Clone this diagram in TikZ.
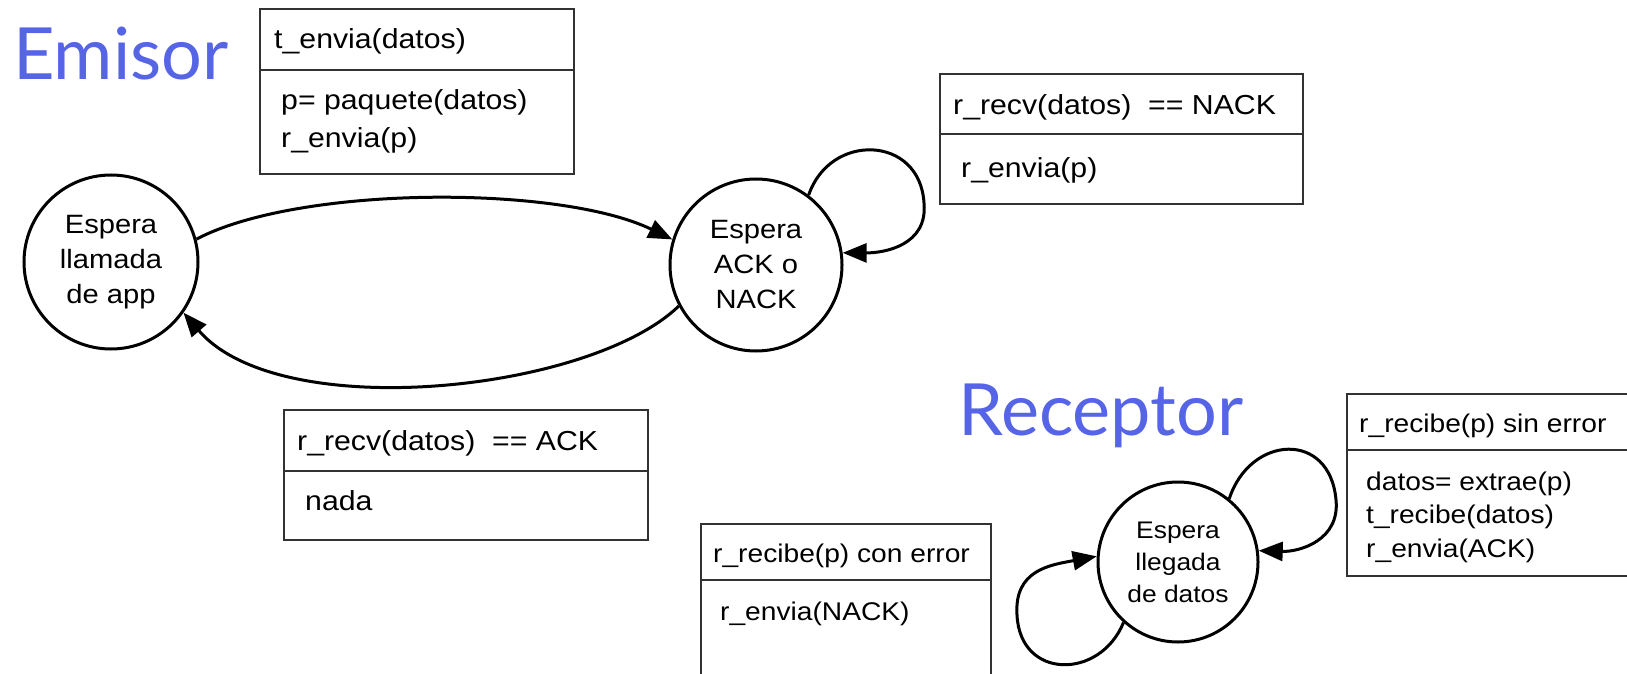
\documentclass[tikz,border=0pt]{standalone}
\usepackage{fontspec}
\setmainfont{Liberation Sans}
\newfontfamily\hv{Liberation Sans}[FakeStretch=1.1]
\newfontfamily\gill{Lato}
\usetikzlibrary{arrows.meta}
\definecolor{titleblue}{RGB}{86,100,230}
\definecolor{boxgray}{RGB}{50,50,50}
\begin{document}
\begin{tikzpicture}[x=1pt,y=-1pt,
  state/.style={circle,draw,line width=3pt,inner sep=0pt,align=center},
  box/.style={draw=boxgray,line width=2.3pt,inner sep=0pt,anchor=north west},
  divider/.style={draw=boxgray,line width=2.3pt},
  lbl/.style={anchor=base west,inner sep=0pt,font=\hv\fontsize{27.5}{33}\selectfont},
  rlbl/.style={anchor=base west,inner sep=0pt,font=\hv\fontsize{25.6}{31}\selectfont},
  heading/.style={anchor=base west,inner sep=0pt,text=titleblue,font=\gill\fontsize{72}{80}\selectfont},
  arr/.style={line width=3pt,-{Triangle[length=24pt,width=19pt]}}]
\useasboundingbox (0,0) rectangle (1627,674);
\clip (0,0) rectangle (1627,674);

% titles
\node[heading] (temisor) at (13,80) {Emisor};
\node[heading] (treceptor) at (958,435) {Receptor};

% states
\node[state,minimum size=174pt,font=\hv\fontsize{26.5}{35}\selectfont] (c1) at (111,262) {Espera\\llamada\\de app};
\node[state,minimum size=172pt,font=\hv\fontsize{26.5}{35}\selectfont] (c2) at (756,265) {Espera\\ACK o\\NACK};
\node[state,minimum size=160pt,font=\hv\fontsize{24}{32}\selectfont] (c3) at (1178,562) {Espera\\llegada\\de datos};

% box 1: t_envia
\node[box,minimum width=314pt,minimum height=165pt] (b1) at (259,8) {};
\draw[divider] (259,70) -- (573,70);
\node[lbl] (b1t) at (274,49) {t\_envia(datos)};
\node[lbl] (b1a) at (281,110) {p= paquete(datos)};
\node[lbl] (b1b) at (281,147) {r\_envia(p)};

% box 2: NACK
\node[box,minimum width=363pt,minimum height=130pt] (b2) at (939,73) {};
\draw[divider] (939,134) -- (1302,134);
\node[lbl] (b2t) at (953,114) {r\_recv(datos)\ \ == NACK};
\node[lbl] (b2a) at (961,177) {r\_envia(p)};

% box 3: ACK
\node[box,minimum width=364pt,minimum height=130pt] (b3) at (283,409) {};
\draw[divider] (283,471) -- (647,471);
\node[lbl] (b3t) at (297,450) {r\_recv(datos)\ \ == ACK};
\node[lbl] (b3a) at (305,510) {nada};

% box 4: sin error
\node[box,minimum width=300pt,minimum height=182pt] (b4) at (1346,393) {};
\draw[divider] (1346,450) -- (1646,450);
\node[rlbl] (b4t) at (1359,432) {r\_recibe(p) sin error};
\node[rlbl] (b4a) at (1366,490) {datos= extrae(p)};
\node[rlbl] (b4b) at (1366,523) {t\_recibe(datos)};
\node[rlbl] (b4c) at (1366,557) {r\_envia(ACK)};

% box 5: con error
\node[box,minimum width=290pt,minimum height=180pt] (b5) at (700,523) {};
\draw[divider] (700,580) -- (990,580);
\node[rlbl] (b5t) at (713,562) {r\_recibe(p) con error};
\node[rlbl] (b5a) at (720,620) {r\_envia(NACK)};

% transitions
\draw[arr] (c1.15) .. controls (300,185) and (560,185) .. (c2.163);
\draw[arr] (c2.208) .. controls (590,392) and (280,425) .. (c1.325);
\draw[arr] (c2.53) .. controls (830,132) and (920,135) .. (924,203) .. controls (928,245) and (885,253) .. (c2.8);
\draw[arr] (c3.51) .. controls (1250,435) and (1330,430) .. (1336,500) .. controls (1340,540) and (1300,552) .. (c3.8);
\draw[arr] (c3.228) .. controls (1100,680) and (1020,680) .. (1017,615) .. controls (1014,570) and (1050,565) .. (c3.176);
\end{tikzpicture}
\end{document}
